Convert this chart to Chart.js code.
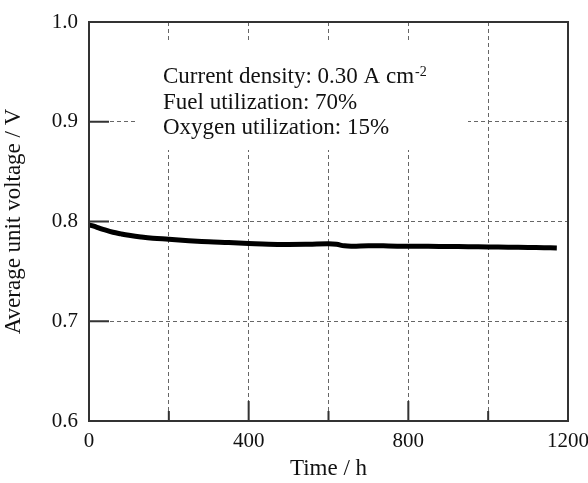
<!DOCTYPE html>
<html lang="en">
<head>
  <meta charset="UTF-8" />
  <title>Average unit voltage vs time</title>
  <script src="https://cdn.jsdelivr.net/npm/chart.js"></script>
  <style>
    html, body { margin: 0; padding: 0; background: #fff; }
    #wrap { width: 588px; height: 483px; }
  </style>
</head>
<body>
  <div id="wrap"><canvas id="voltChart"></canvas></div>

  <script>
    // data
    const hours = [0, 20, 40, 60, 80, 100, 130, 160, 200, 250, 300, 350, 400, 450, 500,
                   550, 600, 620, 640, 660, 700, 750, 800, 850, 900, 950, 1000, 1050, 1100, 1140, 1172];
    const voltage = [0.7967, 0.7942, 0.7915, 0.7892, 0.7876, 0.7862, 0.7845, 0.7832, 0.7822, 0.7808, 0.7796, 0.7789, 0.7780, 0.7772, 0.7770,
                     0.7772, 0.7776, 0.7771, 0.7756, 0.7753, 0.7757, 0.7755, 0.7751, 0.7752, 0.7749, 0.7748, 0.7745, 0.7743, 0.7740, 0.7738, 0.7735];
    const xLabelTicks = [0, 400, 800, 1200];
    const xMinorTicks = [200, 600, 1000];
    const yTicks = [0.7, 0.8, 0.9];
    const noteLines = ['Current density: 0.30 A cm', 'Fuel utilization: 70%', 'Oxygen utilization: 15%'];

    const serif = '"Liberation Serif", "Times New Roman", serif';
    const points = hours.map((h, i) => ({ x: h, y: voltage[i] }));

    // frame, inward ticks, note box
    const extras = {
      id: 'extras',
      beforeDatasetsDraw(chart) {
        const ctx = chart.ctx;
        ctx.save();
        ctx.fillStyle = '#fff';
        ctx.fillRect(138, 43, 330, 107);
        ctx.fillStyle = '#111';
        ctx.textBaseline = 'alphabetic';
        ctx.font = '23px ' + serif;
        noteLines.forEach((t, i) => ctx.fillText(t, 163, 83 + i * 25.5));
        const w = ctx.measureText(noteLines[0]).width;
        ctx.font = '14px ' + serif;
        ctx.fillText('-2', 163 + w + 1, 76);
        ctx.restore();
      },
      afterDraw(chart) {
        const { ctx, chartArea: a, scales: { x, y } } = chart;
        ctx.save();
        ctx.strokeStyle = '#333';
        ctx.lineWidth = 2;
        ctx.beginPath();
        xLabelTicks.concat(xMinorTicks).forEach(v => {
          const px = x.getPixelForValue(v);
          const len = xMinorTicks.includes(v) ? 10 : 20;
          ctx.moveTo(px, a.bottom);
          ctx.lineTo(px, a.bottom - len);
        });
        yTicks.forEach(v => {
          const py = y.getPixelForValue(v);
          ctx.moveTo(a.left, py);
          ctx.lineTo(a.left + 20, py);
        });
        ctx.stroke();
        ctx.strokeRect(a.left, a.top, a.right - a.left, a.bottom - a.top);
        ctx.restore();
      }
    };

    new Chart(document.getElementById('voltChart'), {
      type: 'line',
      data: {
        datasets: [{
          data: points,
          borderColor: '#000',
          borderWidth: 5,
          pointRadius: 0,
          tension: 0.4,
          fill: false
        }]
      },
      options: {
        responsive: true,
        maintainAspectRatio: false,
        animation: false,
        layout: { padding: { top: 22, right: 20, left: 0, bottom: 0 } },
        plugins: { legend: { display: false }, tooltip: { enabled: false } },
        scales: {
          x: {
            type: 'linear',
            min: 0, max: 1200,
            afterFit: s => { s.height = 62; s.paddingLeft = 0; s.paddingRight = 0; },
            ticks: {
              stepSize: 200,
              autoSkip: false,
              maxRotation: 0,
              padding: 8,
              color: '#111',
              font: { family: serif, size: 21 },
              callback: v => (xLabelTicks.includes(v) ? v : '')
            },
            grid: { color: '#666', lineWidth: 1, drawTicks: false },
            border: { display: false, dash: [4, 3] },
            title: {
              display: true, text: 'Time / h', color: '#111',
              font: { family: serif, size: 23 }, padding: { top: 6, bottom: 0 }
            }
          },
          y: {
            min: 0.6, max: 1.0,
            afterFit: s => { s.width = 89; s.paddingTop = 0; s.paddingBottom = 0; },
            ticks: {
              stepSize: 0.1,
              padding: 11,
              color: '#111',
              font: { family: serif, size: 21 },
              callback: v => v.toFixed(1)
            },
            grid: { color: '#666', lineWidth: 1, drawTicks: false },
            border: { display: false, dash: [4, 3] },
            title: {
              display: true, text: 'Average unit voltage / V', color: '#111',
              font: { family: serif, size: 23 }, padding: { top: 0, bottom: 0 }
            }
          }
        }
      },
      plugins: [extras]
    });
  </script>
</body>
</html>
